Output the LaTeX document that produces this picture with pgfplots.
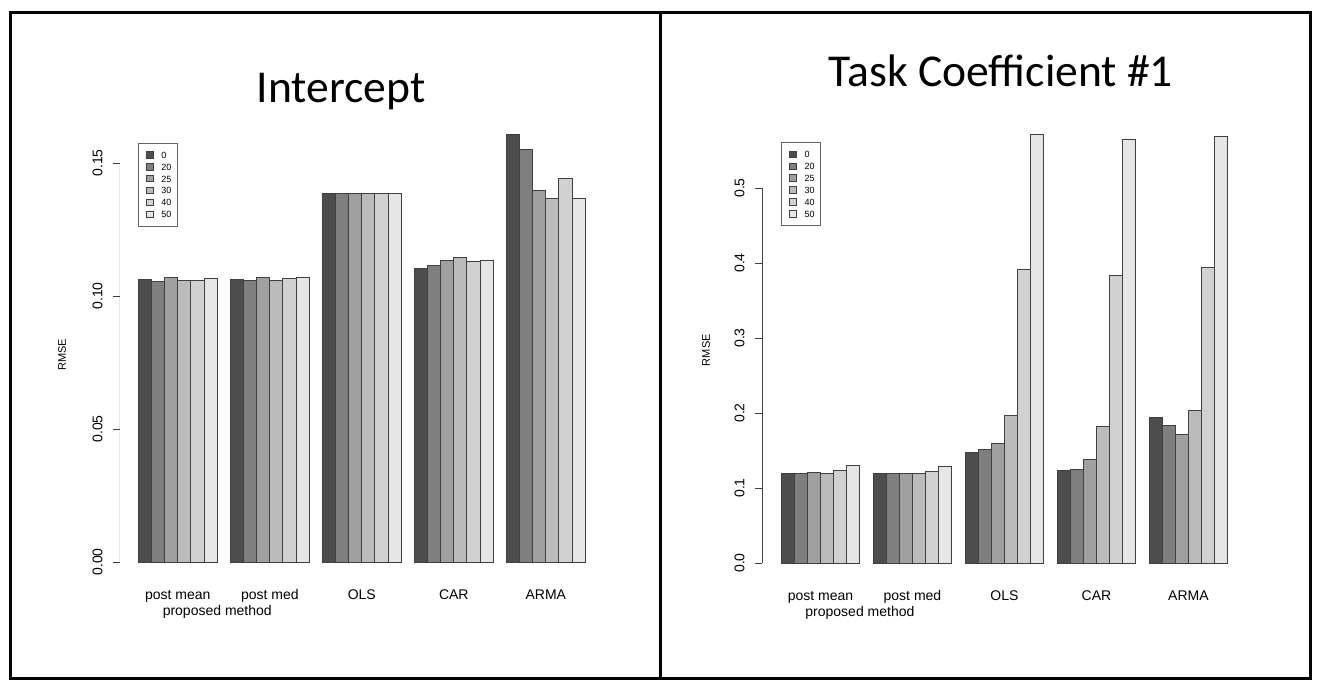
\documentclass[border=0pt]{standalone}
\usepackage{pgfplots}
\pgfplotsset{compat=1.18}
\usepackage{pgfplotstable}
\usepackage{fontspec}
\setmainfont{Liberation Sans}
\newfontfamily\titlefont{Carlito}

\definecolor{g0}{HTML}{4D4D4D}
\definecolor{g1}{HTML}{7F7F7F}
\definecolor{g2}{HTML}{A0A0A0}
\definecolor{g3}{HTML}{BBBBBB}
\definecolor{g4}{HTML}{D1D1D1}
\definecolor{g5}{HTML}{E6E6E6}

% g: group (0 post mean, 1 post med, 2 OLS, 3 CAR, 4 ARMA)
\pgfplotstableread{
g s0 s20 s25 s30 s40 s50
0 0.1061 0.1055 0.1070 0.1060 0.1060 0.1065
1 0.1063 0.1058 0.1070 0.1060 0.1065 0.1068
2 0.1385 0.1385 0.1385 0.1385 0.1385 0.1386
3 0.1105 0.1114 0.1133 0.1143 0.1130 0.1133
4 0.1609 0.1550 0.1397 0.1366 0.1441 0.1366
}\intercept

\pgfplotstableread{
g s0 s20 s25 s30 s40 s50
0 0.120 0.120 0.121 0.120 0.123 0.130
1 0.120 0.120 0.120 0.120 0.122 0.129
2 0.148 0.151 0.160 0.197 0.392 0.572
3 0.123 0.125 0.138 0.182 0.383 0.565
4 0.194 0.184 0.171 0.204 0.394 0.569
}\taskcoef

\pgfplotsset{
  rbar/.style={ybar, bar width=1, bar shift=0pt, draw=black!75, line width=0.5pt},
  rpanel/.style={
    scale only axis,
    axis lines=left,
    x axis line style={draw=none},
    y axis line style={draw=none},
    ymin=0,
    tick align=outside,
    major tick length=3.5pt,
    xtick={4,11,18,25,32},
    xticklabels={post mean,post med,OLS,CAR,ARMA},
    extra x ticks={7},
    extra x tick labels={proposed method},
    extra x tick style={major tick length=0pt, xticklabel style={yshift=-11.3pt}},
    xtick style={draw=none},
    ytick style={draw=black!75, line width=0.5pt},
    /pgf/number format/assume math mode=true,
    tick label style={font=\fontsize{7}{8}\selectfont},
    xticklabel style={anchor=north, inner sep=0pt, text height=5pt, text depth=1.5pt, yshift=-10pt},
    yticklabel style={rotate=90, anchor=south, inner sep=0pt},
    yticklabel shift=5pt,
    ylabel={RMSE},
    ylabel style={anchor=center, font=\fontsize{5.5}{6}\selectfont},
    title style={anchor=center, yshift=0pt, font=\titlefont\fontsize{22.8}{27}\selectfont},
    legend cell align=left,
    legend style={anchor=north west, draw=black!60, line width=0.5pt,
      font=\fontsize{4.5}{5}\selectfont, inner xsep=2.5pt, inner ysep=3.6pt,
      row sep=1.35pt, nodes={inner sep=0.6pt, text height=3.4pt, text depth=0pt}},
    legend image code/.code={\path (0pt,0pt) (8pt,0pt);\draw[#1,draw=black!75,line width=0.4pt] (1.4pt,-1.6pt) rectangle (4.7pt,1.6pt);},
  },
}

\begin{document}
\begin{tikzpicture}
\useasboundingbox (0pt,0pt) rectangle (659pt,-340.5pt);

\begin{axis}[rpanel,
  at={(60pt,-281pt)}, anchor=south west,
  width=235.9pt, height=226.1pt,
  xmin=-0.4, xmax=35.5, ymax=0.17,
  ytick={0,0.05,0.10,0.15},
  yticklabel style={/pgf/number format/.cd, fixed, fixed zerofill, precision=2},
  title={Intercept},
  title style={at={(axis description cs:0.4685,1.0136)}},
  ylabel style={at={(axis description cs:-0.123,0.458)}},
  legend style={at={(axis description cs:0.0375,0.9277)}},
]
\addplot[rbar, fill=g0] table[x expr=7*\thisrow{g}+1.5, y=s0] {\intercept};
\addplot[rbar, fill=g1] table[x expr=7*\thisrow{g}+2.5, y=s20] {\intercept};
\addplot[rbar, fill=g2] table[x expr=7*\thisrow{g}+3.5, y=s25] {\intercept};
\addplot[rbar, fill=g3] table[x expr=7*\thisrow{g}+4.5, y=s30] {\intercept};
\addplot[rbar, fill=g4] table[x expr=7*\thisrow{g}+5.5, y=s40] {\intercept};
\addplot[rbar, fill=g5] table[x expr=7*\thisrow{g}+6.5, y=s50] {\intercept};
\legend{0,20,25,30,40,50}
\draw[black!75, line width=0.5pt] (axis cs:-0.4,0) -- (axis cs:-0.4,0.15);
\end{axis}

\begin{axis}[rpanel,
  at={(381pt,-281.5pt)}, anchor=south west,
  width=236.2pt, height=225pt,
  xmin=-0.45, xmax=35.5, ymax=0.6,
  ytick={0,0.1,0.2,0.3,0.4,0.5},
  yticklabel style={/pgf/number format/.cd, fixed, fixed zerofill, precision=1},
  title={Task Coefficient \#1},
  title style={at={(axis description cs:0.506,1.067)}},
  ylabel style={at={(axis description cs:-0.1185,0.473)}},
  legend style={at={(axis description cs:0.0402,0.9356)}},
]
\addplot[rbar, fill=g0] table[x expr=7*\thisrow{g}+1.5, y=s0] {\taskcoef};
\addplot[rbar, fill=g1] table[x expr=7*\thisrow{g}+2.5, y=s20] {\taskcoef};
\addplot[rbar, fill=g2] table[x expr=7*\thisrow{g}+3.5, y=s25] {\taskcoef};
\addplot[rbar, fill=g3] table[x expr=7*\thisrow{g}+4.5, y=s30] {\taskcoef};
\addplot[rbar, fill=g4] table[x expr=7*\thisrow{g}+5.5, y=s40] {\taskcoef};
\addplot[rbar, fill=g5] table[x expr=7*\thisrow{g}+6.5, y=s50] {\taskcoef};
\legend{0,20,25,30,40,50}
\draw[black!75, line width=0.5pt] (axis cs:-0.45,0) -- (axis cs:-0.45,0.5);
\end{axis}

\draw[line width=1.5pt] (5pt,-6pt) rectangle (655pt,-339pt);
\draw[line width=1.5pt] (330pt,-6pt) -- (330pt,-339pt);
\end{tikzpicture}
\end{document}
